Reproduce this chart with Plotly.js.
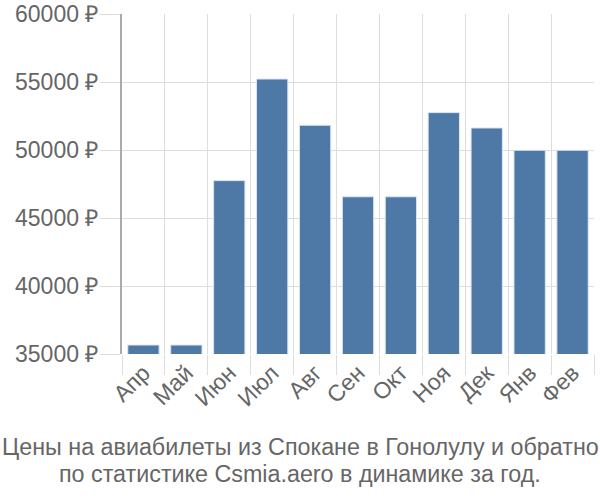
<!DOCTYPE html>
<html><head><meta charset="utf-8">
<script src="https://cdn.plot.ly/plotly-3.0.1.min.js"></script>
<style>body{margin:0}</style></head>
<body><div id="chart" style="width:600px;height:500px"></div>
<script>
const months = ["Апр","Май","Июн","Июл","Авг","Сен","Окт","Ноя","Дек","Янв","Фев"];
const prices = [35660, 35660, 47750, 55220, 51820, 46560, 46560, 52750, 51620, 49980, 49980];
const yTicks = [35000, 40000, 45000, 50000, 55000, 60000];
const yTickText = yTicks.map(v => v + " ₽");
const titleLines = ["Цены на авиабилеты из Спокане в Гонолулу и обратно", "по статистике Csmia.aero в динамике за год."];

const fam = "Liberation Sans, Arial, sans-serif";
const font = {family: fam, size: 23, color: "#666"};
Plotly.newPlot("chart", [{
  type: "bar", x: months, y: prices,
  marker: {color: "#4e79a7", line: {color: "#dde6f0", width: 1}},
  hoverinfo: "none"
}], {
  width: 600, height: 500,
  margin: {l: 122, r: 6, t: 14, b: 146},
  bargap: 0.27,
  plot_bgcolor: "#fff", paper_bgcolor: "#fff",
  font: font,
  xaxis: {
    tickangle: -45, tickson: "boundaries", ticks: "outside", ticklen: 20, tickcolor: "#ddd",
    showgrid: true, gridcolor: "#ddd", gridwidth: 1, showline: false, zeroline: false,
    tickfont: font
  },
  yaxis: {
    range: [35000, 60000], tickvals: yTicks, ticktext: yTickText,
    ticks: "outside", ticklen: 20, tickcolor: "#ddd", ticklabelstandoff: -3,
    showgrid: true, gridcolor: "#ddd", gridwidth: 1,
    showline: true, linecolor: "#aaa", linewidth: 2, zeroline: false, tickfont: font
  },
  annotations: titleLines.map((t, i) => ({
    text: t, xref: "paper", yref: "paper",
    x: 0.5, xanchor: "center", y: 0, yanchor: "middle",
    xshift: -58, yshift: -93 - 27 * i, showarrow: false,
    font: {family: fam, size: 23.3, color: "#666"}
  })),
  showlegend: false
}, {displayModeBar: false, staticPlot: true});
</script></body></html>
